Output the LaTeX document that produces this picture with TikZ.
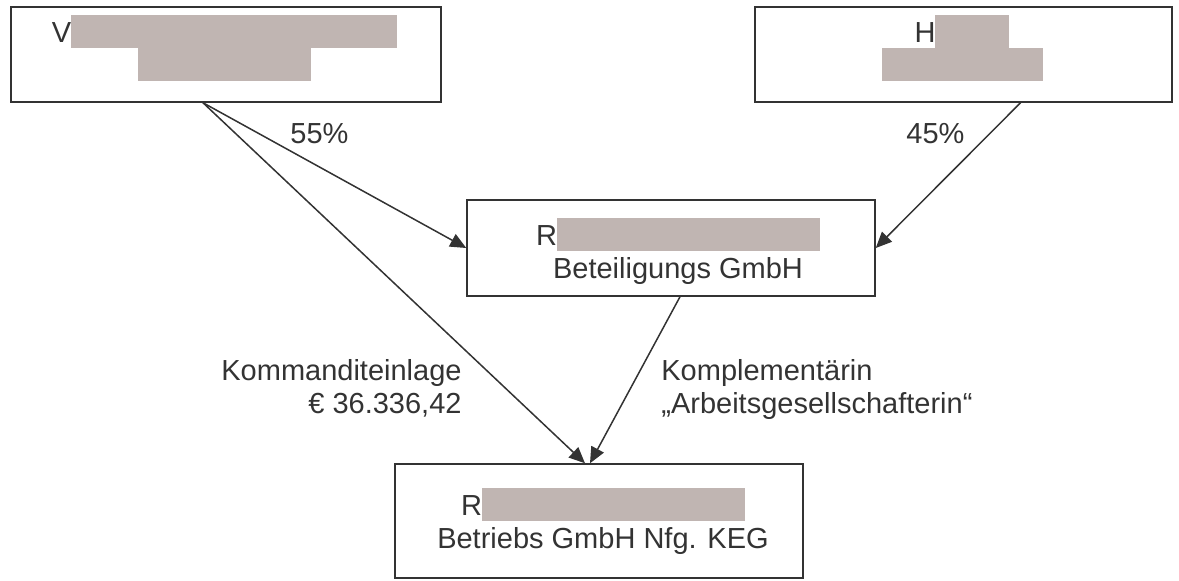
\documentclass[tikz,border=0pt]{standalone}
\usepackage{fontspec}
\setmainfont{Liberation Sans}
\usepackage{xcolor}
\usepackage{tikz}
\usetikzlibrary{arrows.meta,positioning}
\definecolor{inkcol}{HTML}{333333}
\definecolor{blkcol}{HTML}{C0B5B2}
\newcommand{\blk}[1]{\textcolor{blkcol}{\rule[-3pt]{#1}{16.5pt}}}

\begin{document}
\begin{tikzpicture}[x=0.5pt,y=-0.5pt,
  box/.style={rectangle,draw=inkcol,line width=0.75pt,minimum height=47.5pt,inner sep=0pt},
  txt/.style={align=center,inner sep=0pt,anchor=north,text=inkcol,font=\fontsize{14.5}{16.5}\selectfont},
  chan/.style={-{Triangle[length=8pt,width=7pt]},line width=0.75pt,draw=inkcol},
  lbl/.style={inner sep=0pt,text=inkcol,font=\fontsize{14.5}{16.5}\selectfont}
]
\useasboundingbox (0,0) rectangle (1179,580);
% the four boxes
\node[box,minimum width=215pt] (v) at (226,54.5) {};
\node[box,minimum width=208.5pt] (h) at (963.5,54.5) {};
\node[box,minimum width=204pt,minimum height=48pt] (m) at (671,248) {};
\node[box,minimum width=204pt,minimum height=57pt] (b) at (599,521) {};
\node[txt] (vt) at (224.5,15) {V\blk{163pt}\\\blk{86.5pt}};
\node[txt] (ht) at (962,15) {H\blk{37pt}\\\blk{80.5pt}};
\node[txt] (mt) at (678,218) {R\blk{131.5pt}\\Beteiligungs GmbH};
\node[txt] (bt) at (603,488) {R\blk{131.5pt}\\Betriebs GmbH Nfg. KEG};
% shares and contributions
\draw[chan] ([xshift=-11.5pt]v.south) -- (m.west);
\draw[chan] ([xshift=28.5pt]h.south) -- (m.east);
\draw[chan] ([xshift=-11.5pt]v.south) -- ([xshift=-7pt]b.north);
\draw[chan] ([xshift=4.5pt]m.south) -- ([xshift=-4.5pt]b.north);
\node[lbl,anchor=base] (p55) at (319.5,143) {55\%};
\node[lbl,anchor=base] (p45) at (935.5,143) {45\%};
\node[lbl,align=right,anchor=north east] (ke) at (462,359) {Kommanditeinlage\\€ 36.336,42};
\node[lbl,align=left,anchor=north west] (kp) at (661,359) {Komplementärin\\„Arbeitsgesellschafterin“};
\end{tikzpicture}
\end{document}
